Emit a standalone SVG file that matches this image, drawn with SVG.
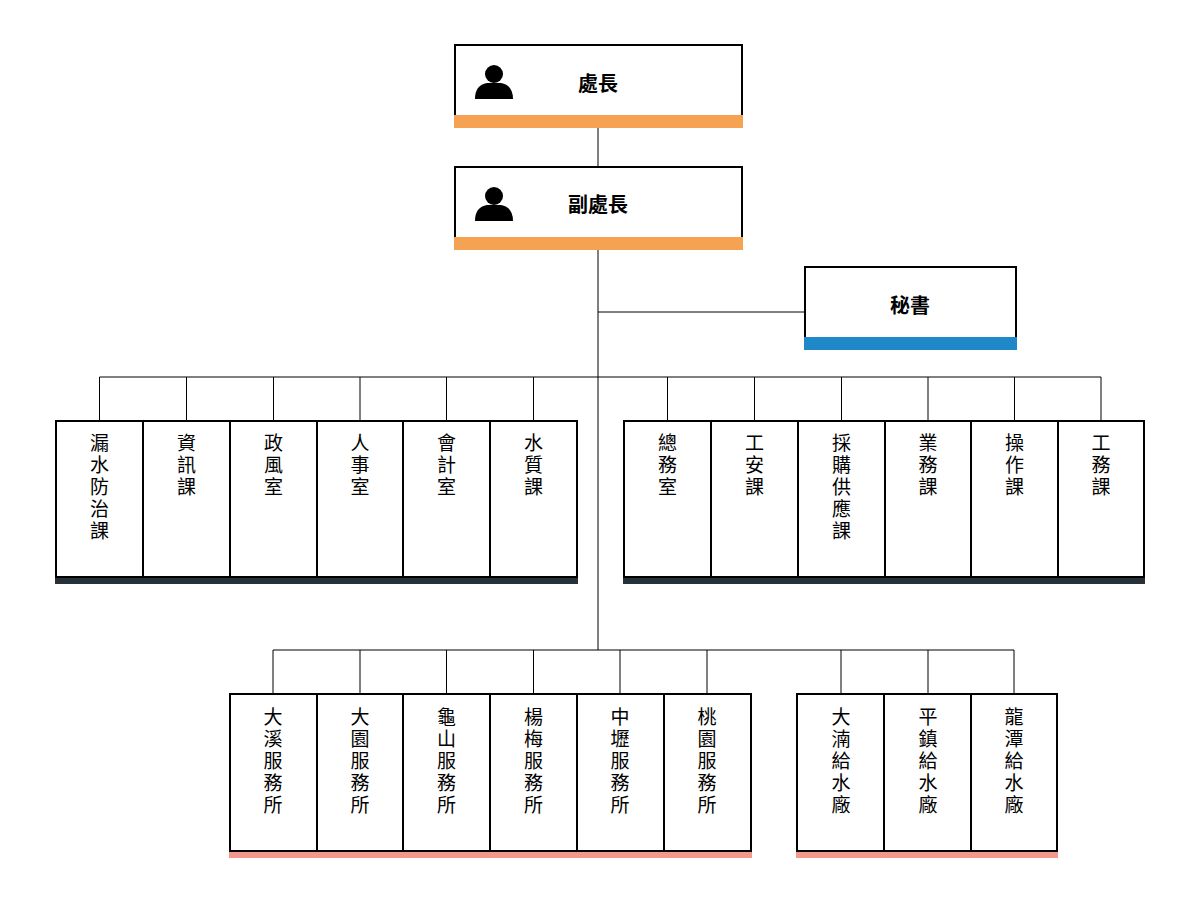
<svg xmlns="http://www.w3.org/2000/svg" width="1200" height="900" viewBox="0 0 1200 900">
<style>
.b{fill:#fff;stroke:#000;stroke-width:2}
.t{font-family:"Noto Sans CJK TC","Liberation Sans",sans-serif;font-size:19px;fill:#000;text-anchor:middle}
.h{font-size:20px;font-weight:bold}
.c{stroke:#000;stroke-width:1;fill:none}
</style>
<defs>
<g id="p"><circle cx="0" cy="-8" r="9"/><path d="M-19,17 Q-19,3 -7,1 L7,1 Q19,3 19,17 Z"/></g>
</defs>
<rect width="1200" height="900" fill="#fff"/>
<g id="connectors" class="c">
<path d="M598,128V650M598,312H805M99.5,377H1101M273,650H1014"/>
<path d="M99.5,377V421M186.5,377V421M273.5,377V421M360,377V421M446.5,377V421M533.5,377V421M667.5,377V421M754.5,377V421M841.5,377V421M928,377V421M1014.5,377V421M1101,377V421"/>
<path d="M273,650V694M360,650V694M446.5,650V694M533.5,650V694M620,650V694M707,650V694M841,650V694M928,650V694M1014,650V694"/>
</g>
<g id="n-chief"><rect class="b" x="455" y="45" width="287" height="72"/><rect x="454" y="115" width="289" height="13" fill="#f5a353"/><use href="#p" x="494" y="82"/><text class="t h" x="598" y="91">處長</text></g>
<g id="n-deputy"><rect class="b" x="455" y="167" width="287" height="72"/><rect x="454" y="237" width="289" height="13" fill="#f5a353"/><use href="#p" x="494" y="204"/><text class="t h" x="598" y="212">副處長</text></g>
<g id="n-sec"><rect class="b" x="805" y="267" width="211" height="72"/><rect x="804" y="337" width="213" height="13" fill="#1e88c8"/><text class="t h" x="910" y="313">秘書</text></g>
<g fill="#263238">
<rect x="55" y="577" width="523" height="7"/><rect x="623" y="577" width="522" height="7"/>
</g>
<g fill="#f4978c">
<rect x="229" y="851" width="523" height="7"/><rect x="796" y="851" width="262" height="7"/>
</g>
<g id="r1">
<g id="n1"><rect class="b" x="56" y="421" width="87" height="156"/><text class="t" x="99.5" y="450"><tspan x="99.5">漏</tspan><tspan x="99.5" dy="22">水</tspan><tspan x="99.5" dy="22">防</tspan><tspan x="99.5" dy="22">治</tspan><tspan x="99.5" dy="22">課</tspan></text></g>
<g id="n2"><rect class="b" x="143" y="421" width="87" height="156"/><text class="t" x="186.5" y="450"><tspan x="186.5">資</tspan><tspan x="186.5" dy="22">訊</tspan><tspan x="186.5" dy="22">課</tspan></text></g>
<g id="n3"><rect class="b" x="230" y="421" width="87" height="156"/><text class="t" x="273.5" y="450"><tspan x="273.5">政</tspan><tspan x="273.5" dy="22">風</tspan><tspan x="273.5" dy="22">室</tspan></text></g>
<g id="n4"><rect class="b" x="317" y="421" width="86" height="156"/><text class="t" x="360" y="450"><tspan x="360">人</tspan><tspan x="360" dy="22">事</tspan><tspan x="360" dy="22">室</tspan></text></g>
<g id="n5"><rect class="b" x="403" y="421" width="87" height="156"/><text class="t" x="446.5" y="450"><tspan x="446.5">會</tspan><tspan x="446.5" dy="22">計</tspan><tspan x="446.5" dy="22">室</tspan></text></g>
<g id="n6"><rect class="b" x="490" y="421" width="87" height="156"/><text class="t" x="533.5" y="450"><tspan x="533.5">水</tspan><tspan x="533.5" dy="22">質</tspan><tspan x="533.5" dy="22">課</tspan></text></g>
<g id="n7"><rect class="b" x="624" y="421" width="87" height="156"/><text class="t" x="667.5" y="450"><tspan x="667.5">總</tspan><tspan x="667.5" dy="22">務</tspan><tspan x="667.5" dy="22">室</tspan></text></g>
<g id="n8"><rect class="b" x="711" y="421" width="87" height="156"/><text class="t" x="754.5" y="450"><tspan x="754.5">工</tspan><tspan x="754.5" dy="22">安</tspan><tspan x="754.5" dy="22">課</tspan></text></g>
<g id="n9"><rect class="b" x="798" y="421" width="87" height="156"/><text class="t" x="841.5" y="450"><tspan x="841.5">採</tspan><tspan x="841.5" dy="22">購</tspan><tspan x="841.5" dy="22">供</tspan><tspan x="841.5" dy="22">應</tspan><tspan x="841.5" dy="22">課</tspan></text></g>
<g id="n10"><rect class="b" x="885" y="421" width="86" height="156"/><text class="t" x="928" y="450"><tspan x="928">業</tspan><tspan x="928" dy="22">務</tspan><tspan x="928" dy="22">課</tspan></text></g>
<g id="n11"><rect class="b" x="971" y="421" width="87" height="156"/><text class="t" x="1014.5" y="450"><tspan x="1014.5">操</tspan><tspan x="1014.5" dy="22">作</tspan><tspan x="1014.5" dy="22">課</tspan></text></g>
<g id="n12"><rect class="b" x="1058" y="421" width="86" height="156"/><text class="t" x="1101" y="450"><tspan x="1101">工</tspan><tspan x="1101" dy="22">務</tspan><tspan x="1101" dy="22">課</tspan></text></g>
</g>
<g id="r2">
<g id="m1"><rect class="b" x="230" y="694" width="87" height="157"/><text class="t" x="273" y="724"><tspan x="273">大</tspan><tspan x="273" dy="22">溪</tspan><tspan x="273" dy="22">服</tspan><tspan x="273" dy="22">務</tspan><tspan x="273" dy="22">所</tspan></text></g>
<g id="m2"><rect class="b" x="317" y="694" width="86" height="157"/><text class="t" x="360" y="724"><tspan x="360">大</tspan><tspan x="360" dy="22">園</tspan><tspan x="360" dy="22">服</tspan><tspan x="360" dy="22">務</tspan><tspan x="360" dy="22">所</tspan></text></g>
<g id="m3"><rect class="b" x="403" y="694" width="87" height="157"/><text class="t" x="446.5" y="724"><tspan x="446.5">龜</tspan><tspan x="446.5" dy="22">山</tspan><tspan x="446.5" dy="22">服</tspan><tspan x="446.5" dy="22">務</tspan><tspan x="446.5" dy="22">所</tspan></text></g>
<g id="m4"><rect class="b" x="490" y="694" width="87" height="157"/><text class="t" x="533.5" y="724"><tspan x="533.5">楊</tspan><tspan x="533.5" dy="22">梅</tspan><tspan x="533.5" dy="22">服</tspan><tspan x="533.5" dy="22">務</tspan><tspan x="533.5" dy="22">所</tspan></text></g>
<g id="m5"><rect class="b" x="577" y="694" width="87" height="157"/><text class="t" x="620" y="724"><tspan x="620">中</tspan><tspan x="620" dy="22">壢</tspan><tspan x="620" dy="22">服</tspan><tspan x="620" dy="22">務</tspan><tspan x="620" dy="22">所</tspan></text></g>
<g id="m6"><rect class="b" x="664" y="694" width="87" height="157"/><text class="t" x="707" y="724"><tspan x="707">桃</tspan><tspan x="707" dy="22">園</tspan><tspan x="707" dy="22">服</tspan><tspan x="707" dy="22">務</tspan><tspan x="707" dy="22">所</tspan></text></g>
<g id="m7"><rect class="b" x="797" y="694" width="87" height="157"/><text class="t" x="841" y="724"><tspan x="841">大</tspan><tspan x="841" dy="22">湳</tspan><tspan x="841" dy="22">給</tspan><tspan x="841" dy="22">水</tspan><tspan x="841" dy="22">廠</tspan></text></g>
<g id="m8"><rect class="b" x="884" y="694" width="87" height="157"/><text class="t" x="928" y="724"><tspan x="928">平</tspan><tspan x="928" dy="22">鎮</tspan><tspan x="928" dy="22">給</tspan><tspan x="928" dy="22">水</tspan><tspan x="928" dy="22">廠</tspan></text></g>
<g id="m9"><rect class="b" x="971" y="694" width="86" height="157"/><text class="t" x="1014" y="724"><tspan x="1014">龍</tspan><tspan x="1014" dy="22">潭</tspan><tspan x="1014" dy="22">給</tspan><tspan x="1014" dy="22">水</tspan><tspan x="1014" dy="22">廠</tspan></text></g>
</g>
</svg>
